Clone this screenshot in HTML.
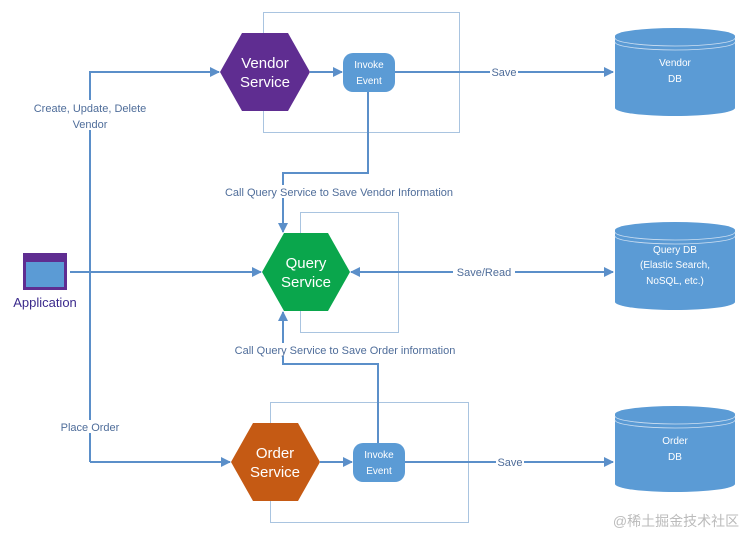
<!DOCTYPE html>
<html><head><meta charset="utf-8"><style>
html,body{margin:0;padding:0;background:#fff;}
svg{display:block;font-family:"Liberation Sans","Noto Sans CJK SC",sans-serif;}
</style></head><body>
<svg width="753" height="538" viewBox="0 0 753 538" xmlns="http://www.w3.org/2000/svg">
<defs>
<marker id="a" markerWidth="10" markerHeight="10" refX="9" refY="5" orient="auto" markerUnits="userSpaceOnUse">
<path d="M0,0 L10,5 L0,10 z" fill="#5b8fc9"/></marker>
</defs>
<g fill="none" stroke="#a9c4e0" stroke-width="1">
<rect x="263.5" y="12.5" width="196" height="120"/>
<rect x="300.5" y="212.5" width="98" height="120"/>
<rect x="270.5" y="402.5" width="198" height="120"/>
</g>
<g fill="none" stroke="#5b8fc9" stroke-width="2">
<polyline points="90,462 90,72 219,72" marker-end="url(#a)"/>
<line x1="310" y1="72" x2="342" y2="72" marker-end="url(#a)"/>
<line x1="395" y1="72" x2="613" y2="72" marker-end="url(#a)"/>
<polyline points="368,92 368,173 283,173 283,232" marker-end="url(#a)"/>
<line x1="70" y1="272" x2="261" y2="272" marker-end="url(#a)"/>
<line x1="500" y1="272" x2="351" y2="272" marker-end="url(#a)"/>
<line x1="440" y1="272" x2="613" y2="272" marker-end="url(#a)"/>
<polyline points="378,443 378,364 283,364 283,312" marker-end="url(#a)"/>
<line x1="90" y1="462" x2="230" y2="462" marker-end="url(#a)"/>
<line x1="320" y1="462" x2="352" y2="462" marker-end="url(#a)"/>
<line x1="405" y1="462" x2="613" y2="462" marker-end="url(#a)"/>
</g>
<!-- labels with white bg -->
<g font-size="11" fill="#4f6d9a" text-anchor="middle">
<rect x="28" y="100" width="124" height="30" fill="#fff"/>
<text x="90" y="112">Create, Update, Delete</text>
<text x="90" y="128">Vendor</text>
<rect x="490" y="66" width="28" height="12" fill="#fff"/>
<text x="504" y="76">Save</text>
<rect x="212" y="185" width="254" height="13" fill="#fff"/>
<text x="339" y="196">Call Query Service to Save Vendor Information</text>
<rect x="453" y="266" width="62" height="12" fill="#fff"/>
<text x="484" y="276">Save/Read</text>
<rect x="222" y="343" width="246" height="13" fill="#fff"/>
<text x="345" y="354">Call Query Service to Save Order information</text>
<rect x="57" y="420" width="66" height="13" fill="#fff"/>
<text x="90" y="431">Place Order</text>
<rect x="496" y="456" width="28" height="12" fill="#fff"/>
<text x="510" y="466">Save</text>
</g>
<!-- hexagons -->
<polygon points="220,72 242,33 288,33 310,72 288,111 242,111" fill="#5f2d91"/>
<text x="265" y="68" font-size="15" fill="#fff" text-anchor="middle">Vendor</text>
<text x="265" y="87" font-size="15" fill="#fff" text-anchor="middle">Service</text>
<polygon points="262,272 284,233 328,233 350,272 328,311 284,311" fill="#0aa64c"/>
<text x="306" y="268" font-size="15" fill="#fff" text-anchor="middle">Query</text>
<text x="306" y="287" font-size="15" fill="#fff" text-anchor="middle">Service</text>
<polygon points="231,462 253,423 298,423 320,462 298,501 253,501" fill="#c55a14"/>
<text x="275" y="458" font-size="15" fill="#fff" text-anchor="middle">Order</text>
<text x="275" y="477" font-size="15" fill="#fff" text-anchor="middle">Service</text>
<!-- invoke -->
<rect x="343" y="53" width="52" height="39" rx="10" fill="#5b9bd5"/>
<text x="369" y="68" font-size="10" fill="#fff" text-anchor="middle">Invoke</text>
<text x="369" y="84" font-size="10" fill="#fff" text-anchor="middle">Event</text>
<rect x="353" y="443" width="52" height="39" rx="10" fill="#5b9bd5"/>
<text x="379" y="458" font-size="10" fill="#fff" text-anchor="middle">Invoke</text>
<text x="379" y="474" font-size="10" fill="#fff" text-anchor="middle">Event</text>
<!-- app -->
<rect x="23" y="253" width="44" height="37" fill="#5f2d91"/>
<rect x="26" y="262" width="38" height="25" fill="#5b9bd5"/>
<text x="45" y="307" font-size="13" fill="#3b2a8c" text-anchor="middle">Application</text>
<!-- DBs -->
<g fill="#5b9bd5">
<path d="M615,36 A60,8 0 0 1 735,36 L735,108 A60,8 0 0 1 615,108 Z"/>
<path d="M615,230 A60,8 0 0 1 735,230 L735,302 A60,8 0 0 1 615,302 Z"/>
<path d="M615,414 A60,8 0 0 1 735,414 L735,484 A60,8 0 0 1 615,484 Z"/>
</g>
<g fill="none" stroke="#cfe0f2" stroke-width="0.8">
<path d="M615,38 A60,8 0 0 0 735,38 M615,42 A60,8 0 0 0 735,42"/>
<path d="M615,232 A60,8 0 0 0 735,232 M615,236 A60,8 0 0 0 735,236"/>
<path d="M615,416 A60,8 0 0 0 735,416 M615,420 A60,8 0 0 0 735,420"/>
</g>
<g font-size="10" fill="#fff" text-anchor="middle">
<text x="675" y="66">Vendor</text><text x="675" y="82">DB</text>
<text x="675" y="253">Query DB</text><text x="675" y="268">(Elastic Search,</text><text x="675" y="284">NoSQL, etc.)</text>
<text x="675" y="444">Order</text><text x="675" y="460">DB</text>
</g>
<text x="676" y="526" font-size="14" fill="#bbb" text-anchor="middle">@稀土掘金技术社区</text>
</svg>
</body></html>
